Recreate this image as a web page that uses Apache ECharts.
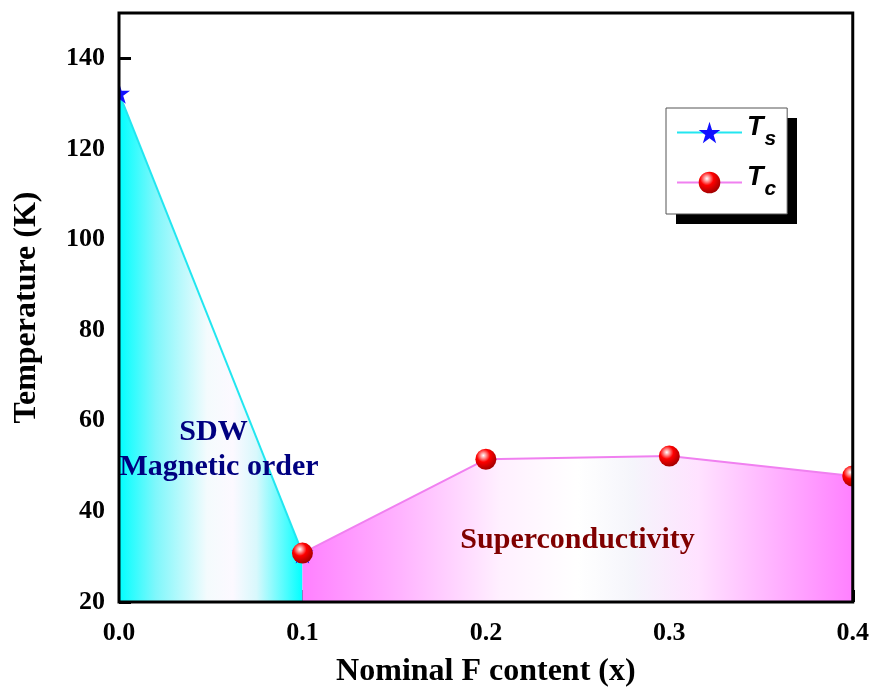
<!DOCTYPE html>
<html>
<head>
<meta charset="utf-8">
<script src="https://cdn.jsdelivr.net/npm/echarts@6/dist/echarts.min.js"></script>
<style>
  html, body { margin: 0; padding: 0; background: #fff; }
  #chart { width: 872px; height: 693px; }
</style>
</head>
<body>
<div id="chart"></div>
<script>
// Phase diagram: structural transition Ts and superconducting Tc vs fluorine content
const tsX = [0.0, 0.1];
const tsY = [132.3, 30.8];
const tcX = [0.1, 0.2, 0.3, 0.4];
const tcY = [30.8, 51.5, 52.2, 47.8];

const xTicks = [0.0, 0.1, 0.2, 0.3, 0.4];
const yTicks = [20, 40, 60, 80, 100, 120, 140];

// Region labels placed in data coordinates
const noteX = [0.0515, 0.0545, 0.250];
const noteY = [57.5, 49.8, 33.7];
const noteText = ['SDW', 'Magnetic order', 'Superconductivity'];
const noteKind = ['sdw', 'sdw', 'sc'];

const SERIF = '"Liberation Serif", "Times New Roman", serif';
const SANS = '"Liberation Sans", Arial, sans-serif';
const STAR_D = 'M50,2 L61.2,36.6 L97.6,36.6 L68.2,58 L79.4,92.6 L50,71.2 L20.6,92.6 L31.8,58 L2.4,36.6 L38.8,36.6 Z';
const STAR = 'path://' + STAR_D;
const STAR_SIZE = 22;
const BALL_SIZE = 21;

const sphere = () => new echarts.graphic.RadialGradient(0.38, 0.32, 0.7, [
  { offset: 0, color: '#ffffff' },
  { offset: 0.18, color: '#ff9a9a' },
  { offset: 0.45, color: '#ff0000' },
  { offset: 1, color: '#a00000' }
]);

const cyanFill = new echarts.graphic.LinearGradient(0, 0, 1, 0, [
  { offset: 0, color: '#00ffff' },
  { offset: 0.2, color: '#7ff7fb' },
  { offset: 0.48, color: '#f4fbfd' },
  { offset: 0.62, color: '#fcf9ff' },
  { offset: 0.75, color: '#d8f8fc' },
  { offset: 1, color: '#00ffff' }
]);

const pinkFill = new echarts.graphic.LinearGradient(0, 0, 1, 0, [
  { offset: 0, color: '#ff80ff' },
  { offset: 0.18, color: '#ffb4ff' },
  { offset: 0.36, color: '#fff0ff' },
  { offset: 0.5, color: '#ffffff' },
  { offset: 0.6, color: '#f5f5fb' },
  { offset: 0.72, color: '#ffe2ff' },
  { offset: 1, color: '#ff80ff' }
]);

const pair = (xs, ys) => xs.map((x, i) => [x, ys[i]]);

const noteData = noteX.map((x, i) => ({
  value: [x, noteY[i]],
  label: {
    formatter: noteText[i],
    color: noteKind[i] === 'sdw' ? '#000080' : '#800000'
  }
}));

// Markers drawn by a custom series so they are clipped by the plot frame
const starMarker = (params, api) => {
  const p = api.coord([api.value(0), api.value(1)]);
  return {
    type: 'path',
    shape: { pathData: STAR_D, x: p[0] - STAR_SIZE / 2, y: p[1] - STAR_SIZE / 2, width: STAR_SIZE, height: STAR_SIZE },
    style: { fill: '#1010ff' }
  };
};
const ballMarker = (params, api) => {
  const p = api.coord([api.value(0), api.value(1)]);
  return {
    type: 'circle',
    shape: { cx: p[0], cy: p[1], r: BALL_SIZE / 2 },
    style: { fill: sphere() }
  };
};

const chart = echarts.init(document.getElementById('chart'), null, { renderer: 'canvas' });

chart.setOption({
  animation: false,
  backgroundColor: '#ffffff',
  grid: {
    show: true,
    z: 10,
    left: 119, right: 17, top: 13, bottom: 91,
    backgroundColor: 'transparent',
    borderColor: '#000',
    borderWidth: 3
  },
  graphic: {
    elements: [
      // drop shadow behind the legend box
      { type: 'rect', left: 676, top: 118, z: 1, shape: { width: 121, height: 106 }, style: { fill: '#000' }, silent: true }
    ]
  },
  legend: {
    data: ['Ts', 'Tc'],
    orient: 'vertical',
    left: 666, top: 108,
    z: 20,
    padding: [6, 11, 14, 10],
    itemWidth: 65,
    itemHeight: 27,
    itemGap: 14,
    backgroundColor: '#ffffff',
    borderColor: '#555',
    borderWidth: 1,
    formatter: name => '{t|T}{s|' + name.slice(1) + '}',
    textStyle: {
      rich: {
        t: { fontFamily: SANS, fontSize: 27, fontStyle: 'italic', fontWeight: 'bold', color: '#000', padding: [0, 0, 10, 0] },
        s: { fontFamily: SANS, fontSize: 21, fontStyle: 'italic', fontWeight: 'bold', color: '#000', padding: [14, 0, 0, 1] }
      }
    }
  },
  xAxis: {
    type: 'value',
    min: xTicks[0],
    max: xTicks[xTicks.length - 1],
    interval: 0.1,
    name: 'Nominal F content (x)',
    nameLocation: 'middle',
    nameGap: 54,
    nameTextStyle: { fontFamily: SERIF, fontSize: 32, fontWeight: 'bold', color: '#000' },
    axisLine: { show: false },
    axisTick: { show: true, inside: true, length: 12, lineStyle: { color: '#000', width: 3 } },
    splitLine: { show: false },
    axisLabel: {
      margin: 18,
      fontFamily: SERIF, fontSize: 26, fontWeight: 'bold', color: '#000',
      formatter: v => v.toFixed(1)
    }
  },
  yAxis: {
    type: 'value',
    min: yTicks[0],
    max: 150,
    interval: 20,
    name: 'Temperature (K)',
    nameLocation: 'middle',
    nameGap: 76,
    nameRotate: 90,
    nameTextStyle: { fontFamily: SERIF, fontSize: 32, fontWeight: 'bold', color: '#000' },
    axisLine: { show: false },
    axisTick: { show: true, inside: true, length: 12, lineStyle: { color: '#000', width: 3 } },
    splitLine: { show: false },
    axisLabel: {
      margin: 14,
      showMaxLabel: false,
      fontFamily: SERIF, fontSize: 26, fontWeight: 'bold', color: '#000'
    }
  },
  series: [
    {
      name: 'Ts',
      type: 'line',
      z: 3,
      data: pair(tsX, tsY),
      symbol: STAR,
      showSymbol: false,
      itemStyle: { color: '#1010ff' },
      lineStyle: { color: '#22e6f0', width: 2 },
      areaStyle: { color: cyanFill, opacity: 1, origin: 'start' }
    },
    {
      name: 'Tc',
      type: 'line',
      z: 4,
      data: pair(tcX, tcY),
      symbol: 'circle',
      showSymbol: false,
      itemStyle: { color: sphere() },
      lineStyle: { color: '#f080f0', width: 2 },
      areaStyle: { color: pinkFill, opacity: 1, origin: 'start' }
    },
    {
      name: 'Ts points',
      type: 'custom',
      z: 6,
      clip: true,
      data: pair(tsX, tsY),
      renderItem: starMarker
    },
    {
      name: 'Tc points',
      type: 'custom',
      z: 7,
      clip: true,
      data: pair(tcX, tcY),
      renderItem: ballMarker
    },
    {
      name: 'regions',
      type: 'scatter',
      z: 5,
      symbolSize: 0,
      itemStyle: { opacity: 1 },
      data: noteData,
      label: {
        show: true,
        position: 'inside',
        fontFamily: SERIF,
        fontSize: 30,
        fontWeight: 'bold'
      }
    }
  ]
});
</script>
</body>
</html>
